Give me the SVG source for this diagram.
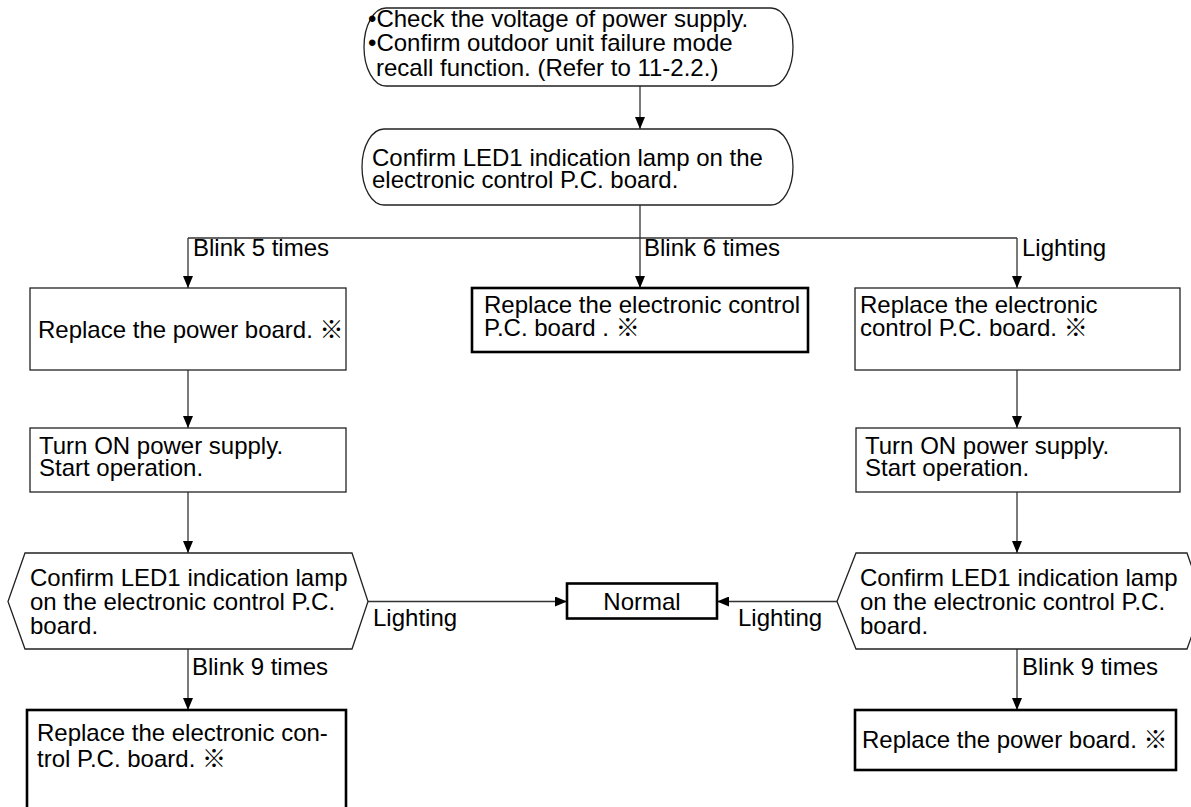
<svg xmlns="http://www.w3.org/2000/svg" width="1191" height="807" viewBox="0 0 1191 807">
<defs>
<style>
.t{font-family:"Liberation Sans",Arial,"Noto Sans CJK JP",sans-serif;font-size:24px;fill:#000}
.n{fill:#fff;stroke:#222;stroke-width:1.3}
.k{fill:#fff;stroke:#000;stroke-width:2.6}
.c{fill:none;stroke:#333;stroke-width:1.3}
</style>
<marker id="ah" viewBox="0 0 12 10" refX="12" refY="5" markerWidth="12" markerHeight="10" markerUnits="userSpaceOnUse" orient="auto">
<path d="M0,0 L12,5 L0,10 z" fill="#000"/>
</marker>
</defs>
<rect width="1191" height="807" fill="#fff"/>
<g id="connectors">
<path class="c" d="M640,86 V129" marker-end="url(#ah)"/>
<path class="c" d="M640,205 V288" marker-end="url(#ah)"/>
<path class="c" d="M188,238 H1017"/>
<path class="c" d="M188,238 V288" marker-end="url(#ah)"/>
<path class="c" d="M1017,238 V288" marker-end="url(#ah)"/>
<path class="c" d="M188,370 V428" marker-end="url(#ah)"/>
<path class="c" d="M1017,370 V428" marker-end="url(#ah)"/>
<path class="c" d="M188,492 V553" marker-end="url(#ah)"/>
<path class="c" d="M1017,492 V553" marker-end="url(#ah)"/>
<path class="c" d="M368,601.5 H567" marker-end="url(#ah)"/>
<path class="c" d="M837,601.5 H717" marker-end="url(#ah)"/>
<path class="c" d="M188,649 V710" marker-end="url(#ah)"/>
<path class="c" d="M1017,649 V710" marker-end="url(#ah)"/>
<text class="t" x="193" y="256">Blink 5 times</text>
<text class="t" x="644" y="256">Blink 6 times</text>
<text class="t" x="1022" y="256">Lighting</text>
<text class="t" x="373" y="626">Lighting</text>
<text class="t" x="738" y="626">Lighting</text>
<text class="t" x="192" y="675">Blink 9 times</text>
<text class="t" x="1022" y="675">Blink 9 times</text>
</g>
<g id="start">
<rect class="n" x="364" y="8" width="429" height="78" rx="22" ry="39"/>
<text class="t" x="368" y="27">•Check the voltage of power supply.</text>
<text class="t" x="368" y="51">•Confirm outdoor unit failure mode</text>
<text class="t" x="376" y="76">recall function. (Refer to 11-2.2.)</text>
</g>
<g id="confirm-led1">
<rect class="n" x="362" y="129" width="431" height="76" rx="22" ry="38"/>
<text class="t" x="372" y="166">Confirm LED1 indication lamp on the</text>
<text class="t" x="372" y="188">electronic control P.C. board.</text>
</g>
<g id="replace-power-left">
<rect class="n" x="30" y="288" width="316" height="82"/>
<text class="t" x="38" y="338">Replace the power board. ※</text>
</g>
<g id="replace-pcb-center">
<rect class="k" x="472" y="288" width="336" height="64"/>
<text class="t" x="484" y="313">Replace the electronic control</text>
<text class="t" x="484" y="336">P.C. board . ※</text>
</g>
<g id="replace-pcb-right">
<rect class="n" x="855" y="288" width="325" height="82"/>
<text class="t" x="860" y="313">Replace the electronic</text>
<text class="t" x="860" y="336">control P.C. board. ※</text>
</g>
<g id="turn-on-left">
<rect class="n" x="30" y="428" width="316" height="64"/>
<text class="t" x="39" y="454">Turn ON power supply.</text>
<text class="t" x="39" y="476">Start operation.</text>
</g>
<g id="turn-on-right">
<rect class="n" x="856" y="428" width="324" height="64"/>
<text class="t" x="865" y="454">Turn ON power supply.</text>
<text class="t" x="865" y="476">Start operation.</text>
</g>
<g id="confirm-left">
<polygon class="n" points="25,553 352,553 368,601.5 352,649 25,649 8,601.5"/>
<text class="t" x="30" y="586">Confirm LED1 indication lamp</text>
<text class="t" x="30" y="610">on the electronic control P.C.</text>
<text class="t" x="30" y="634">board.</text>
</g>
<g id="confirm-right">
<polygon class="n" points="856,553 1187,553 1204,601.5 1187,649 856,649 837,601.5"/>
<text class="t" x="860" y="586">Confirm LED1 indication lamp</text>
<text class="t" x="860" y="610">on the electronic control P.C.</text>
<text class="t" x="860" y="634">board.</text>
</g>
<g id="normal">
<rect class="k" x="567" y="583.5" width="150" height="35"/>
<text class="t" x="642" y="610" text-anchor="middle">Normal</text>
</g>
<g id="replace-pcb-left">
<rect class="k" x="27" y="710" width="319" height="110"/>
<text class="t" x="37" y="741">Replace the electronic con-</text>
<text class="t" x="37" y="767">trol P.C. board. ※</text>
</g>
<g id="replace-power-right">
<rect class="k" x="855" y="710" width="321" height="60"/>
<text class="t" x="862" y="748">Replace the power board. ※</text>
</g>
</svg>
